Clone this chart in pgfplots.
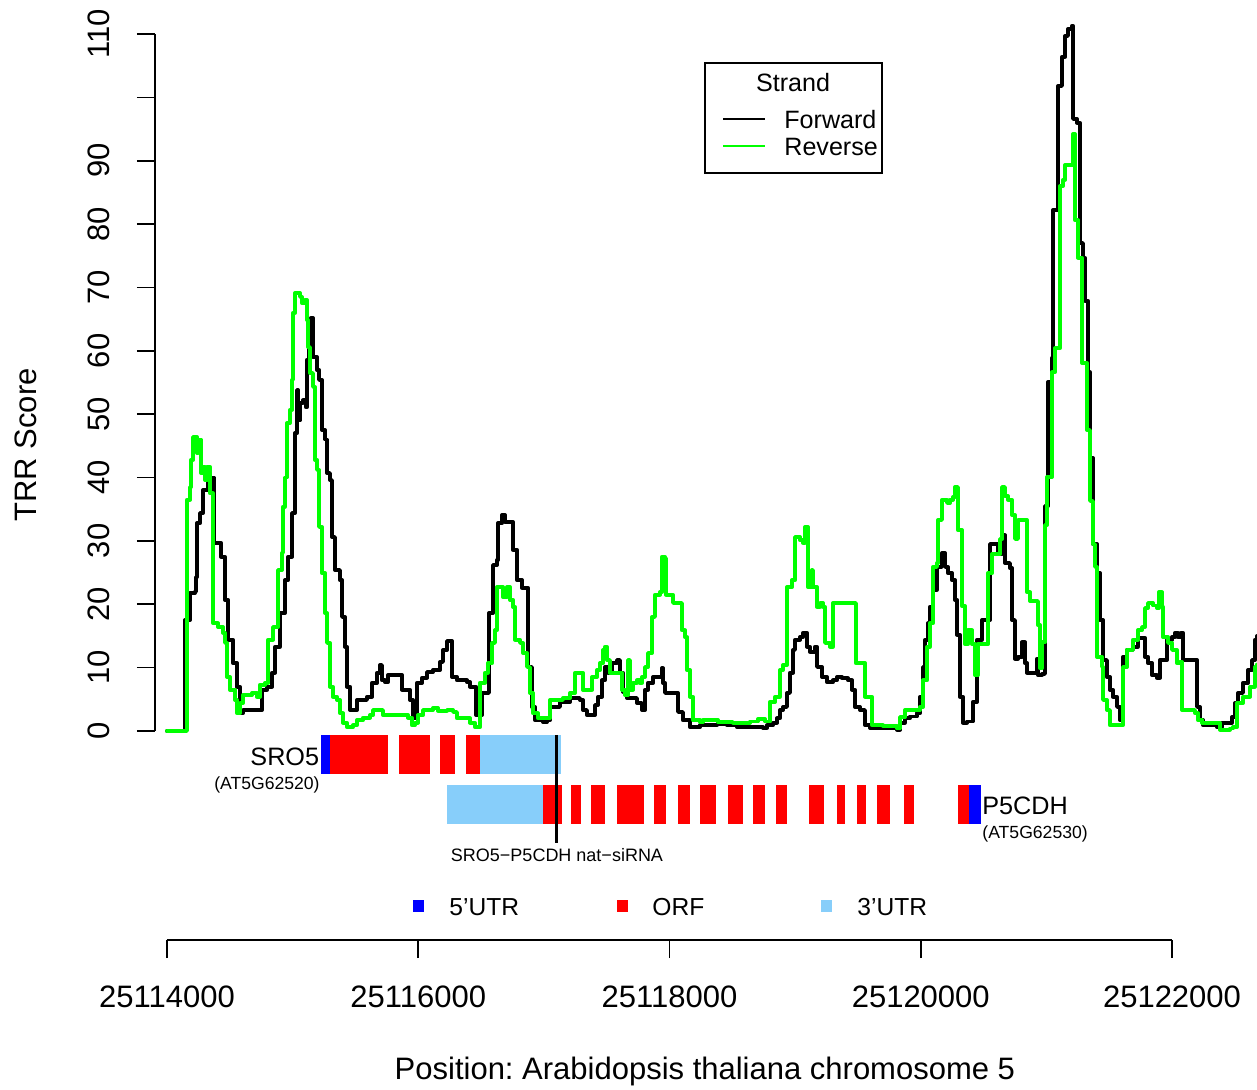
\documentclass[border=0pt]{standalone}
\usepackage{fontspec}
\setmainfont{Liberation Sans}
\usepackage{pgfplots}
\usepackage{pgfplotstable}
\pgfplotsset{compat=1.18}
\definecolor{rgreen}{RGB}{0,255,0}
\definecolor{skyb}{RGB}{135,206,250}
\definecolor{rblue}{RGB}{0,0,255}
\definecolor{rred}{RGB}{255,0,0}
\frenchspacing

% x = position - 25114000 (bp), y = TRR score
\pgfplotstableread{
x y
0 0
135 0
143 17.5
175 17.5
183 21.8
223 22
231 24.3
239 32.8
263 34.4
287 38
326 40
366 40
374 29.7
430 27.5
462 20.7
486 14.4
525 10.7
557 7
581 2.8
605 3.3
740 3.3
756 6.5
796 7
836 9.2
860 13.3
899 18.6
939 23.8
963 27.5
995 34.4
1019 47
1035 53.8
1043 49
1059 51.8
1083 52.2
1106 51.1
1114 58.6
1130 63.3
1146 65.2
1162 59
1194 57
1210 55.4
1234 47.5
1258 46
1274 40.7
1297 39.6
1313 30.6
1337 25.4
1377 23.8
1393 18
1417 13.3
1433 7
1457 3.3
1512 4.9
1592 5.4
1632 7.6
1672 9.2
1695 10.4
1711 8
1735 7.7
1759 8.8
1855 8.8
1871 6.5
1918 6.5
1934 4.9
1958 2
1990 7.6
2030 8.4
2070 9.3
2117 9.6
2173 10.9
2197 12.8
2229 14.2
2253 14.2
2269 8.5
2308 8
2356 8
2388 7.7
2412 7
2452 7
2460 2.5
2476 2.5
2507 6
2547 6
2563 18.6
2595 26.2
2627 27
2635 32.8
2667 34.1
2690 33
2730 33
2754 28.6
2786 23.8
2826 22.6
2866 22.6
2874 10.1
2905 3.8
2929 1.7
2993 1.4
3025 1.7
3049 3.8
3104 3.8
3128 4.6
3208 5.2
3287 4.9
3311 3.3
3343 2.5
3383 2.5
3407 4.1
3431 5.4
3463 8
3486 10.1
3510 9.2
3542 10.7
3582 11.2
3606 9.2
3630 6.2
3662 5.2
3701 5.2
3741 4.4
3781 3.3
3805 6.5
3829 7.6
3869 8.5
3908 8.5
3940 9.9
3948 7.6
3964 6
4060 6
4068 3
4107 1.7
4163 0.6
4243 0.9
4378 1.1
4458 0.9
4537 0.6
4720 0.6
4744 0.5
4776 0.9
4824 1.3
4856 2
4879 3.3
4903 3.8
4935 6
4959 9.2
4983 12.8
4999 14.4
5039 14.8
5063 15.5
5094 13.3
5118 12.5
5158 13.3
5174 10.1
5214 8.5
5254 7.7
5301 8
5333 8.5
5373 8.3
5421 8
5453 6.5
5476 3.8
5516 3.3
5556 0.9
5596 0.5
5699 0.5
5811 0.2
5835 1.3
5874 2
5914 2.3
5970 2.8
5994 5.4
6018 10.1
6034 14.4
6058 17
6073 19.6
6097 22.3
6129 25.9
6169 28.1
6193 25.9
6217 24.9
6249 23.8
6272 20.7
6288 15.2
6312 5.4
6336 1.3
6368 1.5
6416 4.6
6448 14.4
6487 17.5
6511 17.5
6551 29.5
6591 29.5
6615 27.9
6647 30.9
6670 26.5
6710 25.7
6726 17.5
6750 11.4
6774 11.7
6806 14
6830 10.7
6846 9.2
6893 9.2
6925 11.4
6933 8.8
6965 9
6989 35.5
7013 55.1
7045 58.9
7053 82.2
7092 101.8
7124 106.4
7148 109.7
7172 110.8
7204 111.3
7212 96.6
7244 96
7267 77
7291 74.7
7307 67.9
7331 56.6
7347 43.1
7371 29.5
7403 24.9
7427 17.5
7451 11.2
7482 8.5
7506 6.5
7530 5.4
7562 3.8
7586 1.7
7610 11.7
7642 12.8
7689 13.3
7729 14.7
7761 14.7
7785 11.7
7809 10.7
7841 8.8
7880 8.4
7904 11.2
7928 11.2
7960 14.4
8000 14.8
8024 15.5
8048 14.8
8071 15.5
8087 11.2
8183 11.2
8199 3.8
8223 1.7
8247 0.9
8358 0.6
8398 1.3
8438 1.3
8477 2.2
8501 4.4
8525 6
8565 7.6
8605 9.6
8637 11.2
8660 14.4
8676 15
}\fwd

\pgfplotstableread{
x y
0 0
151 0
159 36.5
183 38.5
191 42.8
207 46.4
239 43.9
247 46
271 40.7
287 41.7
302 39.6
318 41.7
342 37.5
366 17
406 16.4
446 15.5
462 13.9
478 8.5
501 6.5
541 4.9
557 2.8
581 4.4
605 5.7
677 6
716 5.4
740 7.3
780 7.6
804 14.4
844 16.4
884 25.4
915 28.1
923 35.4
939 40
955 48.6
979 50.7
995 55.4
1003 66
1019 69.1
1059 68.5
1075 67.5
1098 68
1114 64.9
1122 60.6
1138 56.5
1162 54.3
1178 42.8
1194 41.2
1210 32.2
1234 24.9
1258 18.6
1274 13.9
1297 7
1321 5.4
1353 4.9
1377 2.8
1401 1.3
1433 0.6
1481 0.9
1512 1.7
1560 2.1
1616 2.5
1640 3.3
1695 3.3
1719 2.5
1799 2.5
1879 2.5
1918 2.1
1950 0.9
1974 1.3
1998 2.5
2038 3.3
2117 3.6
2157 3.2
2229 3.3
2277 3
2308 2
2412 1.3
2452 0.6
2476 0.6
2491 7.6
2531 9.2
2555 10.7
2587 13.9
2611 15.9
2627 22.7
2651 22.7
2675 21.1
2706 22.7
2730 20.7
2754 19.6
2770 14.4
2810 13.9
2834 12.3
2866 10.1
2889 6
2913 2.8
2953 2
3025 2
3049 4.9
3112 4.9
3152 5.2
3208 6
3248 9.2
3287 9.2
3311 6.5
3351 6.5
3383 8.5
3423 9.6
3447 10.7
3471 12.8
3486 13.3
3502 11.2
3526 9.2
3606 9.2
3622 6.5
3646 5.7
3670 11.2
3685 6.5
3709 7.6
3741 8
3765 7.6
3781 8.5
3805 10.1
3829 12.3
3861 18
3884 21.5
3924 21.9
3940 27.5
3964 27.3
3972 21.5
4004 21.5
4028 20.2
4068 20.2
4099 15.9
4123 14.8
4139 9.6
4163 5.4
4187 1.7
4243 1.4
4267 1.7
4346 1.7
4386 1.4
4458 1.4
4505 1.3
4585 1.3
4641 1.5
4704 1.9
4760 1.5
4800 4.6
4840 5.4
4879 9.6
4903 10.4
4935 22.7
4975 23.8
4999 30.6
5039 30.1
5063 29.7
5078 32.2
5102 22.7
5134 25.4
5142 22.7
5174 19.6
5198 20.2
5222 19.6
5238 13.9
5277 13.3
5301 20.2
5333 20.2
5437 20.2
5476 20.2
5484 10.7
5532 10.7
5556 5.4
5580 5.4
5612 0.9
5699 0.8
5811 0.4
5835 2.2
5874 3.3
5970 3.3
5994 3.8
6018 8
6050 13.3
6073 17
6097 25.9
6129 26.5
6137 33.3
6169 36.5
6209 36
6233 36.5
6257 36.9
6272 38.5
6296 31.7
6328 19.7
6352 13.7
6376 15.9
6408 13.7
6432 8.8
6456 13.7
6527 13.7
6535 24.9
6567 27.9
6607 27.9
6631 30.3
6647 38.5
6670 37.1
6694 36.5
6726 34.1
6750 30.3
6774 33.3
6814 33.3
6846 21.9
6869 20.5
6909 20.5
6933 16.7
6949 9.9
6965 14
6989 32.5
7005 40.1
7045 56.6
7068 60.4
7092 60.4
7108 86
7132 87
7148 89.3
7188 89.3
7212 94.2
7228 80.6
7252 74.7
7283 58.1
7323 47.5
7347 36.3
7371 29.5
7387 25.9
7403 11.7
7443 10.1
7451 4.9
7482 3.3
7506 0.9
7586 0.9
7610 10.1
7642 12.8
7689 14.4
7729 15.9
7761 16.4
7785 19.4
7809 20.2
7849 19.8
7880 19.4
7896 21.9
7920 19.6
7928 14.8
7968 13.9
8000 12.8
8040 10.7
8063 10.9
8079 3.3
8119 3.3
8183 2.8
8207 1.7
8239 1.3
8326 1.3
8382 0.2
8462 0.4
8486 0.6
8517 4.4
8565 5.4
8621 7
8660 10.1
8676 10.5
}\rev

\newcommand{\gbox}[5]{\addplot[fill=#1,draw=none,forget plot] coordinates {(#2,#4) (#3,#4) (#3,#5) (#2,#5)} -- cycle;}
\newcommand{\bigf}{\fontsize{15.5}{18}\selectfont}
\newcommand{\legf}{\fontsize{12.55}{14}\selectfont}
\newcommand{\smf}{\fontsize{8.8}{10}\selectfont}

\begin{document}
\begin{tikzpicture}
\begin{axis}[
  scale only axis, width=551pt, height=470pt,
  xmin=-95.5, xmax=8676.6, ymin=-32.99, ymax=115.37,
  clip=false,
  axis x line*=bottom, axis y line*=left,
  axis line style={draw=none},
  xtick={0,2000,4000,6000,8000},
  xticklabels={25114000,25116000,25118000,25120000,25122000},
  ytick={0,10,20,30,40,50,60,70,80,90,100,110},
  yticklabels={0,10,20,30,40,50,60,70,80,90,,110},
  tick align=outside,
  major tick length=9pt,
  tick style={line width=0.8pt, black},
  minor tick num=0,
  ticklabel style={font=\bigf},
  xticklabel style={anchor=north, inner sep=0pt},
  xticklabel shift=13.8pt,
  yticklabel style={rotate=90, anchor=south, inner sep=0pt},
  yticklabel shift=13.3pt,
  xlabel={Position: Arabidopsis thaliana chromosome 5},
  xlabel style={at={(axis description cs:0.499,-0.1489)}, anchor=base, font=\bigf, inner sep=0pt},
  ylabel={TRR Score},
  ylabel style={at={(axis description cs:-0.117,0.5266)}, anchor=center, font=\bigf, inner sep=0pt},
]
% gene models
\gbox{rblue}{1226}{1295}{-0.63}{-6.79}
\gbox{rred}{1295}{1757}{-0.63}{-6.79}
\gbox{rred}{1847}{2093}{-0.63}{-6.79}
\gbox{rred}{2173}{2292}{-0.63}{-6.79}
\gbox{rred}{2380}{2491}{-0.63}{-6.79}
\gbox{skyb}{2491}{3136}{-0.63}{-6.79}
\gbox{skyb}{2229}{2995}{-8.52}{-14.68}
\gbox{rred}{2995}{3142}{-8.52}{-14.68}
\gbox{rred}{3216}{3295}{-8.52}{-14.68}
\gbox{rred}{3375}{3486}{-8.52}{-14.68}
\gbox{rred}{3582}{3794}{-8.52}{-14.68}
\gbox{rred}{3877}{3970}{-8.52}{-14.68}
\gbox{rred}{4068}{4163}{-8.52}{-14.68}
\gbox{rred}{4243}{4372}{-8.52}{-14.68}
\gbox{rred}{4466}{4582}{-8.52}{-14.68}
\gbox{rred}{4665}{4763}{-8.52}{-14.68}
\gbox{rred}{4848}{4935}{-8.52}{-14.68}
\gbox{rred}{5110}{5227}{-8.52}{-14.68}
\gbox{rred}{5333}{5399}{-8.52}{-14.68}
\gbox{rred}{5492}{5564}{-8.52}{-14.68}
\gbox{rred}{5652}{5753}{-8.52}{-14.68}
\gbox{rred}{5867}{5946}{-8.52}{-14.68}
\gbox{rred}{6296}{6384}{-8.52}{-14.68}
\gbox{rblue}{6384}{6479}{-8.52}{-14.68}
\addplot[black, line width=1.5pt, forget plot] coordinates {(3102,-0.63) (3102,-17.68)};
% curves
\addplot[black, line width=1.9pt, line join=round, line cap=round, const plot] table[x=x,y=y] {\fwd};
\addplot[rgreen, line width=1.9pt, line join=round, line cap=round, const plot] table[x=x,y=y] {\rev};
% axis lines
\draw[line width=0.8pt] (axis cs:0,-32.99) -- (axis cs:8000,-32.99);
\draw[line width=0.8pt] (axis cs:-95.5,0) -- (axis cs:-95.5,110);
\end{axis}
% legend (strand)
\draw[line width=0.8pt] (275pt,438.5pt) rectangle (363.5pt,383.5pt);
\node[anchor=base, font=\legf, inner sep=0pt] at (319pt,424pt) {Strand};
\draw[line width=0.8pt, black] (284pt,410.5pt) -- (305pt,410.5pt);
\draw[line width=0.8pt, rgreen] (284pt,397pt) -- (305pt,397pt);
\node[anchor=base west, font=\legf, inner sep=0pt] at (314.5pt,405.5pt) {Forward};
\node[anchor=base west, font=\legf, inner sep=0pt] at (314.5pt,392pt) {Reverse};
% gene labels
\node[anchor=base east, font=\fontsize{12.6}{14}\selectfont, inner sep=0pt] at (82.25pt,87.5pt) {SRO5};
\node[anchor=base east, font=\smf, inner sep=0pt] at (82.5pt,75.5pt) {(AT5G62520)};
\node[anchor=base west, font=\fontsize{12.6}{14}\selectfont, inner sep=0pt] at (413.5pt,63pt) {P5CDH};
\node[anchor=base west, font=\smf, inner sep=0pt] at (413.5pt,51pt) {(AT5G62530)};
\node[anchor=base, font=\fontsize{9}{10}\selectfont, inner sep=0pt] at (201pt,39.5pt) {SRO5−P5CDH nat−siRNA};
% feature legend
\fill[rblue] (129pt,20pt) rectangle (134.5pt,14pt);
\fill[rred] (231pt,20pt) rectangle (236.5pt,14pt);
\fill[skyb] (333pt,20pt) rectangle (338.5pt,14pt);
\node[anchor=base west, font=\fontsize{12.3}{14}\selectfont, inner sep=0pt] at (147pt,12.5pt) {5’UTR};
\node[anchor=base west, font=\fontsize{12.3}{14}\selectfont, inner sep=0pt] at (248.5pt,12.5pt) {ORF};
\node[anchor=base west, font=\fontsize{12.3}{14}\selectfont, inner sep=0pt] at (351pt,12.5pt) {3’UTR};
\pgfresetboundingbox
\path[use as bounding box] (-77.5pt,-74.5pt) rectangle (551pt,470pt);
\end{tikzpicture}
\end{document}
